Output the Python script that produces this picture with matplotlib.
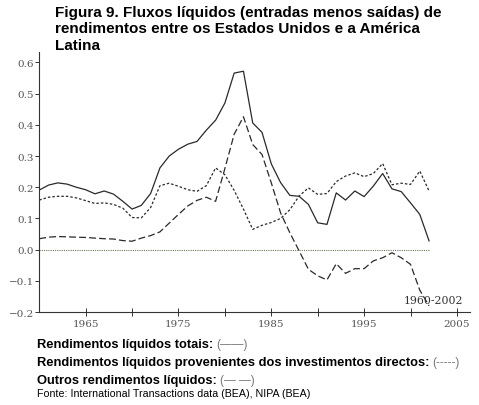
import numpy as np
import matplotlib.pyplot as plt

# ------------------------------------------------------------------
# data (share of income, 1960-2002)
# ------------------------------------------------------------------
years = list(range(1960, 2003))

total = [0.191, 0.207, 0.214, 0.210, 0.200, 0.192, 0.179, 0.188, 0.178, 0.155,
         0.130, 0.142, 0.180, 0.262, 0.300, 0.322, 0.338, 0.347, 0.383, 0.415,
         0.470, 0.566, 0.572, 0.406, 0.376, 0.275, 0.215, 0.174, 0.171, 0.145,
         0.086, 0.081, 0.182, 0.159, 0.188, 0.170, 0.204, 0.244, 0.195, 0.186,
         0.150, 0.113, 0.028]

direct = [0.159, 0.168, 0.171, 0.171, 0.166, 0.157, 0.148, 0.150, 0.145, 0.133,
          0.103, 0.102, 0.135, 0.205, 0.213, 0.203, 0.192, 0.187, 0.205, 0.262,
          0.240, 0.190, 0.130, 0.065, 0.078, 0.087, 0.100, 0.128, 0.172, 0.198,
          0.177, 0.180, 0.218, 0.236, 0.246, 0.234, 0.244, 0.276, 0.208, 0.213,
          0.209, 0.252, 0.188]

other = [0.035, 0.040, 0.042, 0.041, 0.040, 0.039, 0.037, 0.035, 0.034, 0.029,
         0.027, 0.037, 0.045, 0.057, 0.085, 0.113, 0.140, 0.158, 0.168, 0.155,
         0.260, 0.370, 0.426, 0.337, 0.305, 0.214, 0.118, 0.054, -0.004, -0.063,
         -0.084, -0.097, -0.045, -0.076, -0.061, -0.061, -0.036, -0.026, -0.010, -0.026,
         -0.047, -0.130, -0.180]

title_lines = ["Figura 9. Fluxos líquidos (entradas menos saídas) de",
               "rendimentos entre os Estados Unidos e a América",
               "Latina"]
legend_labels = ["Rendimentos líquidos totais:",
                 "Rendimentos líquidos provenientes dos investimentos directos:",
                 "Outros rendimentos líquidos:"]
legend_samples = ["(——)", "(-----)", "(— —)"]
source = "Fonte: International Transactions data (BEA), NIPA (BEA)"
period = "1960-2002"

# ------------------------------------------------------------------
# figure
# ------------------------------------------------------------------
fig = plt.figure(figsize=(4.79, 4.06), dpi=100)
ax = fig.add_axes([0.082, 0.229, 0.899, 0.640])

line_col = "#2a2a2a"
ax.plot(years, total, color=line_col, lw=0.9)
ax.plot(years, direct, color=line_col, lw=0.9, linestyle=(0, (2.0, 1.6)))
ax.plot(years, other, color=line_col, lw=0.9, linestyle=(0, (5.5, 2.5)))
ax.plot([years[0], years[-1]], [0, 0], color="#6a7a5a", lw=0.8, linestyle=(0, (1, 1)))

ax.set_xlim(1960, 2006.4)
ax.set_ylim(-0.2, 0.633)

ax.spines[["top", "right"]].set_visible(False)
for s in ["left", "bottom"]:
    ax.spines[s].set_color("#333333")
    ax.spines[s].set_linewidth(0.8)

ax.set_yticks(np.arange(-0.2, 0.61, 0.1))
ax.set_yticklabels(["\u22120.2", "\u22120.1", "0.0", "0.1", "0.2", "0.3", "0.4", "0.5", "0.6"])
ax.set_xticks(range(1965, 2006, 5))
ax.set_xticklabels([str(y) if y % 10 == 5 else "" for y in range(1965, 2006, 5)])

for lab in ax.get_xticklabels() + ax.get_yticklabels():
    lab.set_fontfamily("DejaVu Serif")
    lab.set_fontsize(7.5)
    lab.set_color("#555555")
ax.tick_params(axis="y", direction="out", length=3, width=0.7, color="#333333", pad=1)
ax.tick_params(axis="x", direction="inout", length=6, width=0.7, color="#333333", pad=2)

ax.text(2005.7, -0.178, period, fontsize=7.8, family="DejaVu Serif",
        color="#333333", ha="right", va="bottom")

# title, one line at a time
for i, line in enumerate(title_lines):
    fig.text(0.115, 0.958 - i * 0.0405, line, fontsize=11, fontweight="bold",
             family="Liberation Sans", va="baseline", ha="left")

# hand-made legend below the axes
y0 = 0.142
for i, (lab, samp) in enumerate(zip(legend_labels, legend_samples)):
    t = fig.text(0.077, y0 - i * 0.0435, lab, fontsize=9.3, fontweight="bold",
                 family="Liberation Sans", va="baseline", ha="left")
    ax.annotate(samp, xy=(1, 0), xycoords=t, xytext=(2, 0),
                textcoords="offset points", fontsize=8.5, color="#777777",
                family="Liberation Sans", va="bottom", ha="left",
                annotation_clip=False)

fig.text(0.077, 0.023, source, fontsize=7.7, family="Liberation Sans",
         va="baseline", ha="left")

fig.savefig("out.png", dpi=100)
